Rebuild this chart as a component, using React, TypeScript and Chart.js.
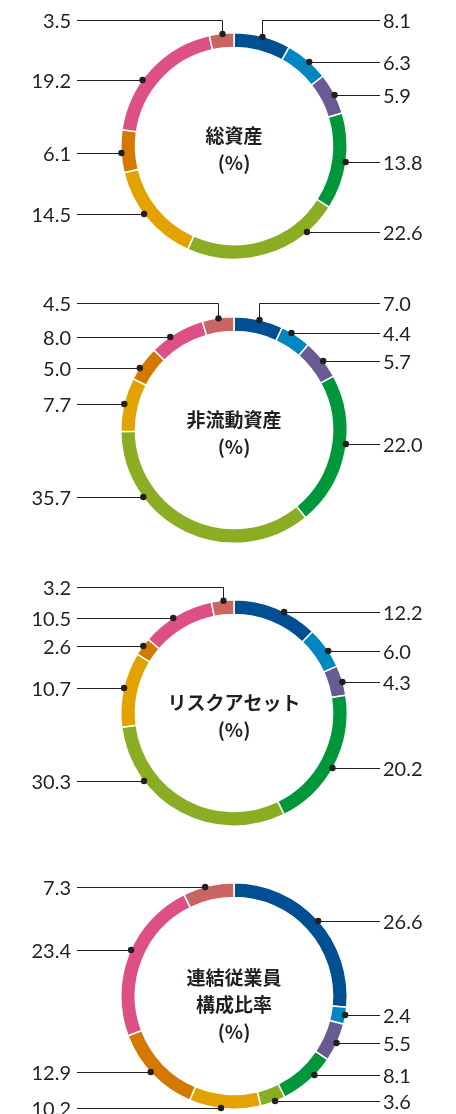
import React, { useEffect, useRef } from "react";
import { Chart, registerables } from "chart.js";

Chart.register(...registerables);

// ---------------- DATA ----------------
// Segments run clockwise from 12 o'clock.
const segmentKeys = ["s1", "s2", "s3", "s4", "s5", "s6", "s7", "s8", "s9"];

const totalAssetsTitle = ["総資産", "(%)"];
const totalAssetsValues = [8.1, 6.3, 5.9, 13.8, 22.6, 14.5, 6.1, 19.2, 3.5];

const nonCurrentAssetsTitle = ["非流動資産", "(%)"];
const nonCurrentAssetsValues = [7.0, 4.4, 5.7, 22.0, 35.7, 7.7, 5.0, 8.0, 4.5];

const riskAssetsTitle = ["リスクアセット", "(%)"];
const riskAssetsValues = [12.2, 6.0, 4.3, 20.2, 30.3, 10.7, 2.6, 10.5, 3.2];

const employeesTitle = ["連結従業員", "構成比率", "(%)"];
const employeesValues = [26.6, 2.4, 5.5, 8.1, 3.6, 10.2, 12.9, 23.4, 7.3];

// ---------------- STYLE / LAYOUT ----------------
const segmentColors = [
  "#004f93",
  "#0087c1",
  "#685b94",
  "#00973b",
  "#8aad24",
  "#e2a300",
  "#d57800",
  "#dd5085",
  "#c96562",
];

// vertical offset of each callout label from the donut centre (px)
const totalAssetsCallouts = [-126, -84, -51, 16, 86, 68, 7, -66, -126];
const nonCurrentAssetsCallouts = [-127, -97, -69, 14, 67, -26, -62, -93, -127];
const riskAssetsCallouts = [-101, -62, -31, 55, 68, -25, -67, -95, -126];
const employeesCallouts = [-75, 19, 47, 79, 105, 112, 76, -46, -109];

const CANVAS_W = 456;
const CANVAS_H = 284;
const TEXT_COLOR = "#231f20";
const NUM_FONT = "400 20px Lato, 'Noto Sans', sans-serif";
const TITLE_FONT = "700 19px 'Noto Sans CJK JP', sans-serif";

const calloutPlugin = {
  id: "callouts",
  afterDraw(chart: any, _args: any, opts: any) {
    const ctx: CanvasRenderingContext2D = chart.ctx;
    const meta = chart.getDatasetMeta(0);
    const values: number[] = chart.data.datasets[0].data;
    const offsets: number[] = opts.offsets || [];
    const title: string[] = opts.title || [];
    if (!meta.data.length) return;
    const a0 = meta.data[0];
    const cx = a0.x;
    const cy = a0.y;
    const rDot = a0.outerRadius - 0.5;
    const rightLineEnd = 380;
    const leftLineEnd = 77;

    ctx.save();
    ctx.strokeStyle = "#231f20";
    ctx.fillStyle = TEXT_COLOR;
    ctx.lineWidth = 1;

    meta.data.forEach((arc: any, i: number) => {
      const mid = (arc.startAngle + arc.endAngle) / 2;
      const right = Math.cos(mid) > 0;
      const dy = offsets[i];
      const ly = cy + dy;
      const lineEnd = right ? rightLineEnd : leftLineEnd;
      let dx: number, dyy: number;
      ctx.beginPath();
      if (Math.abs(dy) < rDot) {
        dx = cx + (right ? 1 : -1) * Math.sqrt(rDot * rDot - dy * dy);
        dyy = ly;
        ctx.moveTo(dx, ly + 0.5);
        ctx.lineTo(lineEnd, ly + 0.5);
      } else {
        dx = cx + rDot * Math.cos(mid);
        dyy = cy + rDot * Math.sin(mid);
        ctx.moveTo(lineEnd, ly + 0.5);
        ctx.lineTo(Math.round(dx) + 0.5, ly + 0.5);
        ctx.lineTo(Math.round(dx) + 0.5, dyy);
        dx = Math.round(dx) + 0.5;
      }
      ctx.stroke();
      ctx.beginPath();
      ctx.arc(dx, dyy, 3.2, 0, Math.PI * 2);
      ctx.fill();

      ctx.font = NUM_FONT;
      ctx.textBaseline = "middle";
      ctx.textAlign = right ? "left" : "right";
      ctx.fillText(values[i].toFixed(1), right ? 383 : 71, ly + 1.5);
    });

    ctx.font = TITLE_FONT;
    ctx.textAlign = "center";
    ctx.textBaseline = "middle";
    const first = opts.titleOffset ?? -10;
    title.forEach((t, k) => {
      ctx.fillText(t, cx, cy + first + k * 27);
    });
    ctx.restore();
  },
};

type DonutProps = {
  values: number[];
  offsets: number[];
  title: string[];
  titleOffset: number;
  top: number;
};

function Donut({ values, offsets, title, titleOffset, top }: DonutProps) {
  const ref = useRef<HTMLCanvasElement | null>(null);
  useEffect(() => {
    if (!ref.current) return;
    const chart = new Chart(ref.current, {
      type: "doughnut",
      data: {
        labels: segmentKeys,
        datasets: [
          {
            data: values,
            backgroundColor: segmentColors,
            borderColor: "#ffffff",
            borderWidth: 1.5,
            hoverOffset: 0,
          },
        ],
      },
      options: {
        responsive: false,
        animation: false,
        devicePixelRatio: 1,
        events: [],
        cutout: "87%",
        layout: { padding: { left: 120, right: 108, top: 32, bottom: 24 } },
        plugins: {
          legend: { display: false },
          tooltip: { enabled: false },
          callouts: { offsets, title, titleOffset },
        } as any,
      },
      plugins: [calloutPlugin],
    });
    return () => chart.destroy();
  }, [values, offsets, title, titleOffset]);

  return (
    <canvas
      ref={ref}
      width={CANVAS_W}
      height={CANVAS_H}
      style={{ position: "absolute", left: 0, top, width: CANVAS_W, height: CANVAS_H }}
    />
  );
}

export default function App() {
  return (
    <div
      style={{
        position: "absolute",
        left: 0,
        top: 0,
        width: 456,
        height: 1114,
        overflow: "hidden",
        background: "#ffffff",
      }}
    >
      <Donut values={totalAssetsValues} offsets={totalAssetsCallouts} title={totalAssetsTitle} titleOffset={-10} top={0} />
      <Donut values={nonCurrentAssetsValues} offsets={nonCurrentAssetsCallouts} title={nonCurrentAssetsTitle} titleOffset={-10} top={284} />
      <Donut values={riskAssetsValues} offsets={riskAssetsCallouts} title={riskAssetsTitle} titleOffset={-10} top={567} />
      <Donut values={employeesValues} offsets={employeesCallouts} title={employeesTitle} titleOffset={-18} top={850} />
    </div>
  );
}
